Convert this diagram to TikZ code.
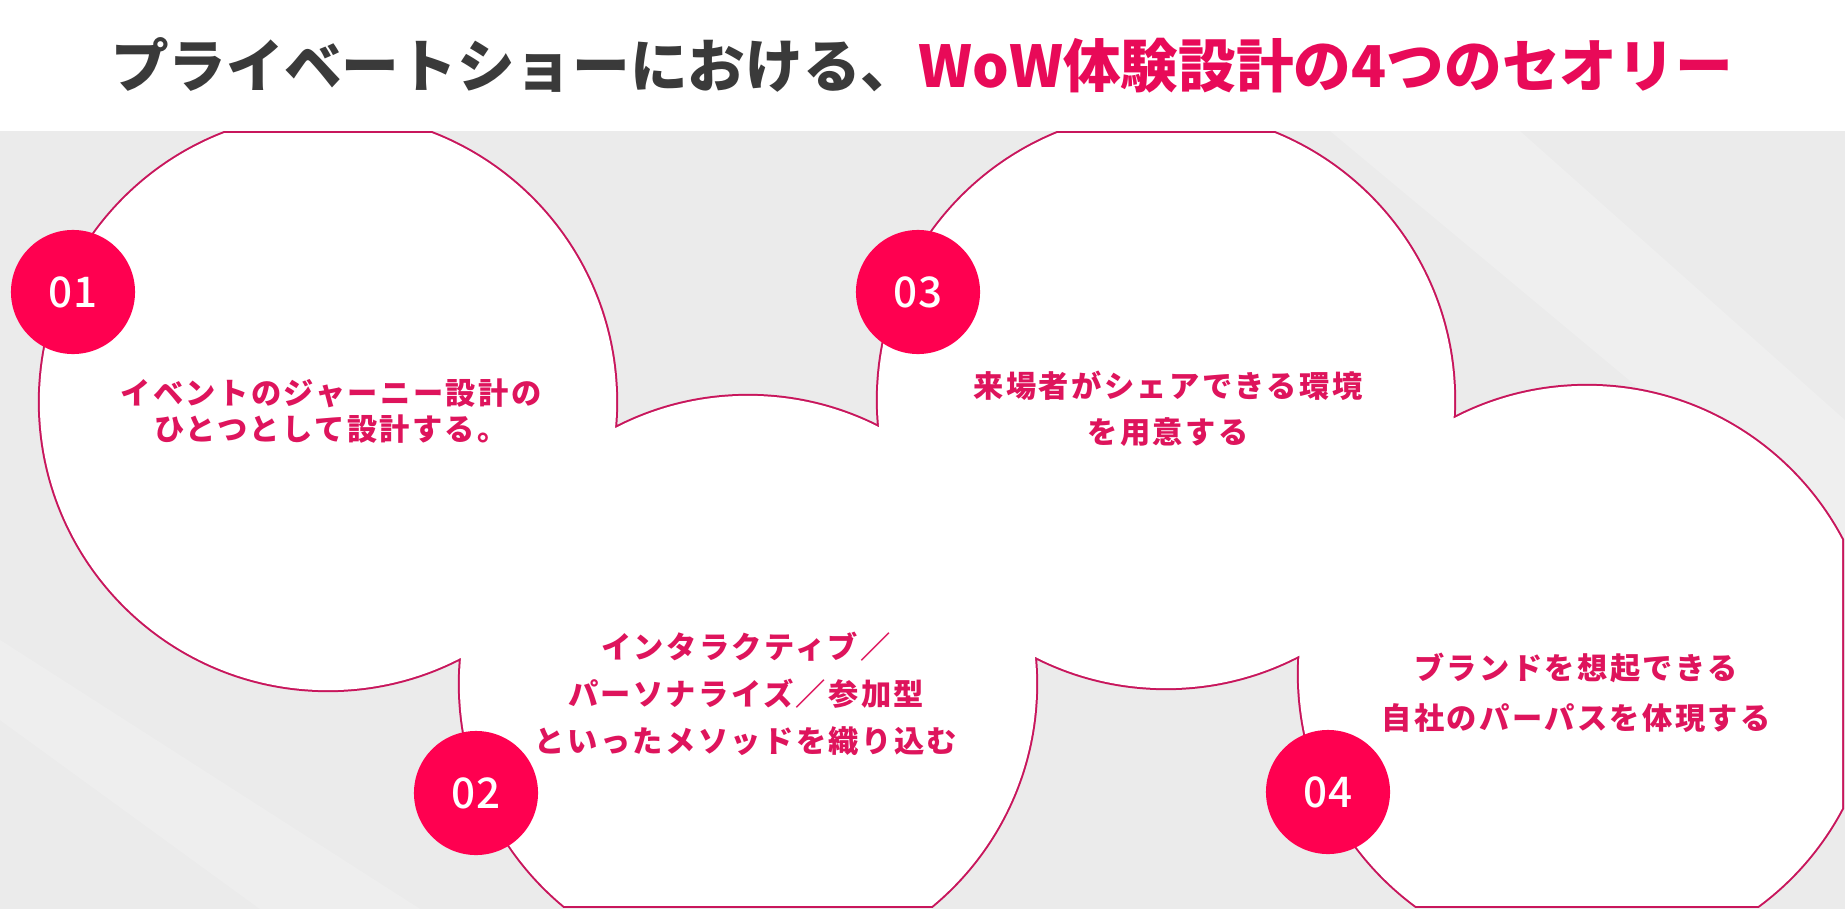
\documentclass[tikz,border=0pt]{standalone}
\usepackage{fontspec}
\newfontfamily\jpfont{Noto Sans CJK JP}
\newfontfamily\jpnum{Noto Sans CJK JP Medium}
\newfontfamily\jpspaced{Noto Sans CJK JP}[LetterSpace=8]
\definecolor{badgepink}{RGB}{255,0,80}
\definecolor{linepink}{RGB}{200,22,92}
\definecolor{textpink}{RGB}{222,20,92}
\definecolor{titlepink}{RGB}{232,10,88}
\definecolor{titlegray}{RGB}{58,58,58}
\definecolor{bggray}{RGB}{235,235,235}
\tikzset{
  badge/.style={circle,fill=badgepink,minimum size=1.24cm,inner sep=0pt,text=white,font=\jpnum\fontsize{12pt}{13pt}\selectfont},
  theory/.style={text=textpink,align=center,inner sep=0pt,font=\jpspaced\bfseries\fontsize{8.6pt}{#1}\selectfont}
}

\begin{document}
\begin{tikzpicture}[x=0.01cm,y=-0.01cm]
  \fill[white] (0,0) rectangle (1845,909);
  \fill[bggray] (0,131) rectangle (1845,909);
  \fill[white,opacity=0.2] (1330,131) -- (1520,131) -- (1845,420) -- (1845,560) -- cycle;
  \fill[white,opacity=0.18] (0,640) -- (0,720) -- (260,909) -- (420,909) -- cycle;

  \coordinate (c1) at (328,402);
  \coordinate (c2) at (748,684);
  \coordinate (c3) at (1166,400);
  \coordinate (c4) at (1587,674);

  \begin{scope}
    \clip (0,131) rectangle (1844,907);
    \fill[linepink] \foreach \c in {c1,c2,c3,c4} {(\c) circle[radius=2.9cm]};
  \end{scope}
  \begin{scope}
    \clip (0,133) rectangle (1842,905);
    \fill[white] \foreach \c in {c1,c2,c3,c4} {(\c) circle[radius=2.88cm]};
  \end{scope}

  \node[font=\jpfont\bfseries\fontsize{16.4pt}{18pt}\selectfont] (title) at (922,65)
    {{\color{titlegray}プライベートショーにおける、}{\color{titlepink}WoW体験設計の4つのセオリー}};

  \node[theory=10.2pt] (t1) at (331,411) {イベントのジャーニー設計の\\ひとつとして設計する。};
  \node[theory=13.4pt] (t2) at (746,694) {インタラクティブ／\\パーソナライズ／参加型\\といったメソッドを織り込む};
  \node[theory=13.1pt] (t3) at (1168,409) {来場者がシェアできる環境\\を用意する};
  \node[theory=14.2pt] (t4) at (1576,693) {ブランドを想起できる\\自社のパーパスを体現する};

  \node[badge] (b1) at (73,292) {01};
  \node[badge] (b2) at (476,793) {02};
  \node[badge] (b3) at (918,292) {03};
  \node[badge] (b4) at (1328,792) {04};
\end{tikzpicture}
\end{document}
